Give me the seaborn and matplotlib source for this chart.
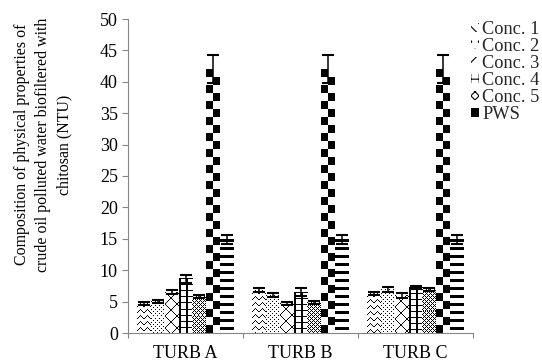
import numpy as np
import pandas as pd
import matplotlib
matplotlib.use("Agg")
import matplotlib.pyplot as plt
import seaborn as sns
from matplotlib.patches import Patch

# ---------------- data ----------------
groups = ["TURB A", "TURB B", "TURB C"]
series = ["Conc. 1", "Conc. 2", "Conc. 3", "Conc. 4", "Conc. 5", "PWS", "Standard"]
legend_series = ["Conc. 1", "Conc. 2", "Conc. 3", "Conc. 4", "Conc. 5", "PWS"]

conc1 = [4.7, 6.8, 6.3]
conc2 = [5.0, 6.0, 7.0]
conc3 = [6.5, 4.7, 6.0]
conc4 = [8.6, 6.5, 7.3]
conc5 = [5.8, 4.9, 6.9]
pws = [42.0, 42.0, 42.0]
standard = [14.9, 14.9, 14.9]

conc1_err = [0.3, 0.35, 0.3]
conc2_err = [0.3, 0.3, 0.4]
conc3_err = [0.35, 0.3, 0.35]
conc4_err = [0.6, 0.6, 0.25]
conc5_err = [0.3, 0.25, 0.25]
pws_err = [2.2, 2.2, 2.2]
standard_err = [0.7, 0.7, 0.7]

yticks = [0, 5, 10, 15, 20, 25, 30, 35, 40, 45, 50]

values = [conc1, conc2, conc3, conc4, conc5, pws, standard]
errors = [conc1_err, conc2_err, conc3_err, conc4_err, conc5_err, pws_err, standard_err]

# ---------------- style ----------------
sns.set_theme(style="white")
plt.rcParams["font.family"] = ["Liberation Serif", "DejaVu Serif"]
plt.rcParams["hatch.linewidth"] = 0.8
GRAY = "#868686"

rows = []
for s, vals in zip(series, values):
    for g, v in zip(groups, vals):
        rows.append({"group": g, "series": s, "value": v})
df = pd.DataFrame(rows)

fig = plt.figure(figsize=(5.42, 3.63), dpi=100)
ax = fig.add_axes([128 / 542, 30 / 363, 345 / 542, 314 / 363])

sns.barplot(data=df, x="group", y="value", hue="series", order=groups,
            hue_order=series, palette={s: "white" for s in series},
            width=0.852, gap=0, errorbar=None, ax=ax, legend=False,
            edgecolor="none", linewidth=0, saturation=1)
ax.set_xlim(-0.5, 2.5)
ax.set_ylim(0, 50)


# ---------------- pattern fills ----------------
def tile_wave():
    t = np.zeros((6, 7))
    ys = [3, 2, 1, 0, 1, 2, 3]
    for x, y in enumerate(ys):
        t[y, x] = 1
    return t


def tile_dots():
    t = np.zeros((4, 4))
    t[0, 0] = 1
    t[2, 2] = 1
    return t


def tile_diag():
    t = np.zeros((12, 12))
    for i in range(12):
        t[i, i] = 1
        t[i, 11 - i] = 1
    return t


def tile_grid():
    t = np.zeros((6, 7))
    t[:, 0:2] = 1
    t[0, :] = 1
    return t


def tile_fine():
    t = np.zeros((4, 4))
    for y in range(4):
        for x in range(4):
            if (x + y) % 4 == 0 or (x - y) % 4 == 0:
                t[y, x] = 1
    return t


def tile_checker():
    t = np.zeros((16, 14))
    for y in range(16):
        for x in range(14):
            if (x // 7 + y // 8) % 2 == 0:
                t[y, x] = 1
    return t


def tile_stripes():
    t = np.zeros((8, 1))
    t[0:3, 0] = 1
    return t


tiles = [tile_wave(), tile_dots(), tile_diag(), tile_grid(), tile_fine(),
         tile_checker(), tile_stripes()]

fig.canvas.draw()
for cont, tile in zip(ax.containers, tiles):
    th, tw = tile.shape
    for p in cont:
        bb = p.get_window_extent()
        w = max(int(round(bb.width)), 1)
        h = max(int(round(bb.height)), 1)
        rr = np.arange(h)[:, None] % th
        cc = np.arange(w)[None, :] % tw
        arr = tile[rr, cc]
        x0 = p.get_x()
        ax.imshow(arr, cmap="Greys", vmin=0, vmax=1,
                  extent=(x0, x0 + p.get_width(), p.get_y(), p.get_y() + p.get_height()),
                  origin="upper", interpolation="nearest", aspect="auto", zorder=2)

# ---------------- error bars ----------------
for cont, vals, errs in zip(ax.containers, values, errors):
    xc = [p.get_x() + p.get_width() / 2 for p in cont]
    ax.errorbar(xc, vals, yerr=errs, fmt="none", ecolor="black",
                elinewidth=1.1, capsize=4, capthick=1.5, zorder=4)

ax.set_xlim(-0.5, 2.5)
ax.set_ylim(0, 50)

# ---------------- axes ----------------
for sp in ["top", "right"]:
    ax.spines[sp].set_visible(False)
for sp in ["left", "bottom"]:
    ax.spines[sp].set_color(GRAY)
    ax.spines[sp].set_linewidth(0.8)

ax.set_yticks(yticks)
ax.set_yticklabels([str(v) for v in yticks])
ax.set_xticks([0, 1, 2])
ax.set_xticklabels(groups)
ax.set_xticks([-0.5, 0.5, 1.5, 2.5], minor=True)
ax.tick_params(axis="y", which="major", left=True, direction="out", length=4.3,
               width=0.8, color=GRAY, pad=3, labelsize=13, labelcolor="black")
ax.tick_params(axis="x", which="major", bottom=True, length=0, pad=9,
               labelsize=13, labelcolor="black")
ax.tick_params(axis="x", which="minor", bottom=True, direction="out", length=3.5,
               width=0.8, color=GRAY)
ax.set_xlabel("")
ax.set_ylabel("Composition of physical properties of\n"
              "crude oil polluted water biofiltered with\n"
              "chitosan (NTU)", fontsize=11.4, color="black", linespacing=1.42)
ax.yaxis.set_label_coords(-0.161, 0.6)

# ---------------- legend ----------------
legend_styles = [
    dict(facecolor="white", hatch="\\\\\\"),
    dict(facecolor="white", hatch=".."),
    dict(facecolor="white", hatch="/"),
    dict(facecolor="white", hatch="++"),
    dict(facecolor="white", hatch="xxxx"),
    dict(facecolor="black"),
]
handles = [Patch(edgecolor="black", linewidth=0, label=lab, **st)
           for lab, st in zip(legend_series, legend_styles)]
fig.legend(handles=handles, loc="upper left",
           bbox_to_anchor=(471 / 542, 1 - 21 / 363), frameon=False,
           fontsize=13.2, handlelength=0.42, handleheight=0.42,
           handletextpad=0.2, labelspacing=0.0, borderpad=0, borderaxespad=0)

fig.savefig("out.png", dpi=100)
